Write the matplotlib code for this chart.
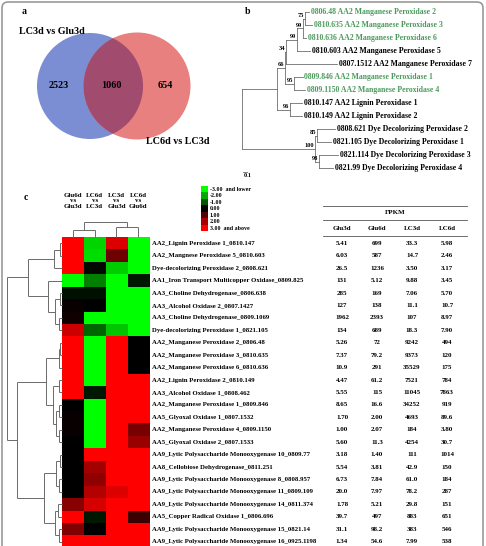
import numpy as np
import matplotlib
matplotlib.use("Agg")
import matplotlib.pyplot as plt
from matplotlib.patches import Circle, FancyBboxPatch
from matplotlib.colors import LinearSegmentedColormap
from matplotlib.collections import LineCollection

plt.rcParams['font.family'] = ['Liberation Serif', 'DejaVu Serif']
plt.rcParams['font.weight'] = 'bold'

# ---- panel a: venn
venn_sets = ['LC3d vs Glu3d', 'LC6d vs LC3d']
venn_counts = [2523, 1060, 654]

# ---- panel b: tree leaves
tree_names = ['0806.48 AA2 Manganese Peroxidase 2', '0810.635 AA2 Manganese Peroxidase 3',
              '0810.636 AA2 Manganese Peroxidase 6', '0810.603 AA2 Manganese Peroxidase 5',
              '0807.1512 AA2 Manganese Peroxidase 7', '0809.846 AA2 Manganese Peroxidase 1',
              '0809.1150 AA2 Manganese Peroxidase 4', '0810.147 AA2 Lignin Peroxidase 1',
              '0810.149 AA2 Lignin Peroxidase 2', '0808.621 Dye Decolorizing Peroxidase 2',
              '0821.105 Dye Decolorizing Peroxidase 1', '0821.114 Dye Decolorizing Peroxidase 3',
              '0821.99 Dye Decolorizing Peroxidase 4']
tree_green = [1, 1, 1, 0, 0, 1, 1, 0, 0, 0, 0, 0, 0]

def N(boot, length, *kids):
    return ('n', boot, length, kids)

def L(idx, length):
    return ('l', idx, length)

# branch lengths in substitutions/site
tree = N(None, 0,
         N(None, 0.875,
           N(66, 0.21,
             N(34, 0.025,
               N(99, 0.275,
                 N(99, 0.15,
                   N(75, 0.05, L(0, 0.09), L(1, 0.175)),
                   L(2, 0.08)),
                 L(3, 0.32)),
               L(4, 1.28)),
             N(95, 0.225, L(5, 0.21), L(6, 0.27))),
           N(96, 0.33, L(7, 0.31), L(8, 0.31))),
         N(100, 1.83,
           N(85, 0.05, L(9, 0.44), L(10, 0.34)),
           N(98, 0.11, L(11, 0.47), L(12, 0.34))))

# ---- panel c: heatmap + FPKM table
col_labels = ['Glu6d\nvs\nGlu3d', 'LC6d\nvs\nLC3d', 'LC3d\nvs\nGlu3d', 'LC6d\nvs\nGlu6d']
genes = ['AA2_Lignin Peroxidase 1_0810.147', 'AA2_Mangnese Peroxidase 5_0810.603',
         'Dye-decolorizing Peroxidase 2_0808.621', 'AA1_Iron Transport Multicopper Oxidase_0809.825',
         'AA3_Choline Dehydrogenase_0806.638', 'AA3_Alcohol Oxidase 2_0807.1427',
         'AA3_Choline Dehydrogenase_0809.1069', 'Dye-decolorizing Peroxidase 1_0821.105',
         'AA2_Manganese Peroxidase 2_0806.48', 'AA2_Manganese Peroxidase 3_0810.635',
         'AA2_Manganese Peroxidase 6_0810.636', 'AA2_Lignin Peroxidase 2_0810.149',
         'AA3_Alcohol Oxidase 1_0808.462', 'AA2_Manganese Peroxidase 1_0809.846',
         'AA5_Glyoxal Oxidase 1_0807.1532', 'AA2_Manganese Peroxidase 4_0809.1150',
         'AA5_Glyoxal Oxidase 2_0807.1533', 'AA9_Lytic Polysaccharide Monooxygenase 10_0809.77',
         'AA8_Cellobiose Dehydrogenase_0811.251', 'AA9_Lytic Polysaccharide Monooxygenase 8_0808.957',
         'AA9_Lytic Polysaccharide Monooxygenase 11_0809.109', 'AA9_Lytic Polysaccharide Monooxygenase 14_0811.374',
         'AA5_Copper Radical Oxidase 1_0806.696', 'AA9_Lytic Polysaccharide Monooxygenase 15_0821.14',
         'AA9_Lytic Polysaccharide Monooxygenase 16_0925.1198']
log2fc = np.array([
    [3.0, -2.5, 2.6, -3.0],
    [3.0, -2.6, 1.3, -3.0],
    [3.0, -0.1, -2.4, -3.0],
    [-3.0, -1.5, -3.0, -0.3],
    [-0.2, -0.2, -3.0, -3.0],
    [0.1, 0.0, -3.0, -3.0],
    [0.2, -3.0, -3.0, -3.0],
    [2.4, -1.2, -2.3, -3.0],
    [3.0, -3.0, 3.0, 0.0],
    [3.0, -3.0, 3.0, 0.0],
    [3.0, -3.0, 3.0, 0.0],
    [3.0, -3.0, 3.0, 3.0],
    [3.0, -0.3, 3.0, 3.0],
    [0.0, -3.0, 3.0, 3.0],
    [0.1, -3.0, 3.0, 3.0],
    [0.1, -3.0, 3.0, 1.4],
    [0.0, -3.0, 3.0, 1.8],
    [0.0, 3.0, 3.0, 3.0],
    [0.0, 1.9, 3.0, 3.0],
    [0.0, 1.7, 3.0, 3.0],
    [0.0, 2.1, 2.6, 3.0],
    [1.6, 2.5, 3.0, 3.0],
    [3.0, -0.3, 3.0, 0.7],
    [1.5, 0.0, 3.0, 3.0],
    [3.0, 3.0, 3.0, 3.0],
])
legend_levels = [-3, -2, -1, 0, 1, 2, 3]
legend_text = ['-3.00  and lower', '-2.00', '-1.00', '0.00', '1.00', '2.00', '3.00  and above']

fpkm_cols = ['Glu3d', 'Glu6d', 'LC3d', 'LC6d']
glu3d = ['5.41', '6.03', '26.5', '131', '285', '127', '1962', '134', '5.26', '7.37', '10.9', '4.47', '5.55',
         '8.65', '1.70', '1.00', '5.60', '3.18', '5.54', '6.73', '20.0', '1.78', '39.7', '31.1', '1.34']
glu6d = ['699', '587', '1236', '5.12', '169', '138', '2393', '689', '72', '79.2', '291', '61.2', '115',
         '16.6', '2.00', '2.07', '11.3', '1.40', '3.81', '7.84', '7.97', '5.21', '497', '98.2', '54.6']
lc3d = ['33.3', '14.7', '3.50', '9.88', '7.06', '11.1', '107', '18.3', '9242', '9373', '35529', '7521', '11045',
        '34252', '4693', '184', '4254', '111', '42.9', '61.0', '78.2', '29.8', '883', '383', '7.99']
lc6d = ['5.98', '2.46', '3.17', '3.45', '5.70', '10.7', '8.97', '7.90', '494', '120', '175', '784', '7863',
        '919', '89.6', '3.80', '30.7', '1014', '150', '184', '287', '151', '651', '546', '538']

# clustering trees (leaf index or (left, right, height))
row_top = (((0, 1, 2.5), 2, 7.7), (3, ((4, 5, 2.5), (6, 7, 3), 7), 13.7), 33.7)
row_bottom = ((((8, 9, 2), 10, 3), ((11, 12, 3), ((13, 14, 3), (15, 16, 3.5), 6), 9), 16.3),
              (((17, 18, 2.5), (19, 20, 3), 6), ((21, 22, 4), (23, 24, 3), 7), 17.7), 45.3)
row_tree = (row_top, row_bottom, 55.3)
col_tree = ((0, 1, 7), (2, 3, 10), 15)

# ---------------------------------------------------------------
fig = plt.figure(figsize=(4.86, 5.46), dpi=100)
ax = fig.add_axes([0, 0, 1, 1])
ax.set_xlim(0, 486)
ax.set_ylim(546, 0)
ax.set_autoscale_on(False)
ax.axis('off')

ax.add_patch(FancyBboxPatch((2, 2), 481, 560, boxstyle='round,pad=0,rounding_size=6',
                            fc='none', ec='#9a9a9a', lw=1.2))

# panel a
ax.text(22, 11, 'a', fontsize=7, va='center')
blue = Circle((90, 86), 53, fc='#7b8ed4', ec='none')
red = Circle((137, 86), 53.5, fc='#e88080', ec='none')
lens = Circle((137, 86), 53.5, fc='#a14c6e', ec='none')
ax.add_patch(blue)
ax.add_patch(red)
ax.add_patch(lens)
lens.set_clip_path(blue)
ax.text(52, 32, venn_sets[0], fontsize=7.3, ha='center', va='center')
ax.text(178, 142, venn_sets[1], fontsize=7.3, ha='center', va='center')
for xx, cnt in zip([59, 111, 165], venn_counts):
    ax.text(xx, 86, str(cnt), fontsize=7.3, ha='center', va='center')

# panel b
ax.text(245, 11, 'b', fontsize=7, va='center')
px_unit = 40.0
leaf_y0, leaf_dy = 12.0, 13.0
tree_col = '#6e6e6e'

def draw_tree(node, x0):
    if node[0] == 'l':
        idx, length = node[1], node[2]
        x = x0 + length * px_unit
        y = leaf_y0 + leaf_dy * idx
        ax.plot([x0, x], [y, y], color=tree_col, lw=0.6)
        ax.text(x + 2, y, tree_names[idx], fontsize=5.6, va='center',
                color='#4b9a5c' if tree_green[idx] else 'black')
        return y
    boot, length, kids = node[1], node[2], node[3]
    x = x0 + length * px_unit
    ys = [draw_tree(k, x) for k in kids]
    y = (min(ys) + max(ys)) / 2
    ax.plot([x, x], [min(ys), max(ys)], color=tree_col, lw=0.6)
    if length > 0:
        ax.plot([x0, x], [y, y], color=tree_col, lw=0.6)
    if boot is not None:
        ax.text(x - 0.8, y - 0.5, str(boot), fontsize=4.6, ha='right', va='bottom')
    return y

draw_tree(tree, 241.7)
ax.plot([243, 243 + 0.1 * px_unit], [171.5, 171.5], color=tree_col, lw=0.6)
ax.text(244, 175.5, '0.1', fontsize=4.6, va='center')

# panel c
ax.text(24, 198, 'c', fontsize=7, va='center')
hx0, hx1 = 62.0, 149.0
hy0, rdy = 237.1, 12.43
ncol = log2fc.shape[1]
cw = (hx1 - hx0) / ncol

def row_pos(i):
    return hy0 + rdy * (i + 0.5)

segs = []

def draw_row_dend(node):
    if not isinstance(node, tuple):
        return row_pos(node), 0.0
    l, r, h = node
    yl, hl = draw_row_dend(l)
    yr, hr = draw_row_dend(r)
    segs.append([(hx0 - hl, yl), (hx0 - h, yl)])
    segs.append([(hx0 - hr, yr), (hx0 - h, yr)])
    segs.append([(hx0 - h, yl), (hx0 - h, yr)])
    return (yl + yr) / 2, h

def draw_col_dend(node):
    if not isinstance(node, tuple):
        return hx0 + cw * (node + 0.5), 0.0
    l, r, h = node
    xl, hl = draw_col_dend(l)
    xr, hr = draw_col_dend(r)
    segs.append([(xl, hy0 - hl), (xl, hy0 - h)])
    segs.append([(xr, hy0 - hr), (xr, hy0 - h)])
    segs.append([(xl, hy0 - h), (xr, hy0 - h)])
    return (xl + xr) / 2, h

draw_row_dend(row_tree)
draw_col_dend(col_tree)
ax.add_collection(LineCollection(segs, colors='#6a6a6a', linewidths=0.7, zorder=5))

cmap = LinearSegmentedColormap.from_list('gkr', ['#00ff00', '#000000', '#ff0000'])
ax.imshow(log2fc, cmap=cmap, vmin=-3, vmax=3, aspect='auto', interpolation='nearest',
          extent=(hx0, hx1, hy0 + rdy * len(genes), hy0), zorder=1)

for j, lab in enumerate(col_labels):
    ax.text(hx0 + cw * (j + 0.5), 201, lab, fontsize=5, ha='center', va='center', linespacing=1.15)

# legend swatch
ax.imshow(np.array(legend_levels)[:, None], cmap=cmap, vmin=-3, vmax=3, aspect='auto',
          interpolation='nearest', extent=(201, 208, 231, 186), zorder=1)
for k, t in enumerate(legend_text):
    ax.text(209.5, 189.3 + 6.45 * k, t, fontsize=4.3, va='center')

for i, g in enumerate(genes):
    ax.text(152, row_pos(i), g, fontsize=4.9, va='center')

# FPKM table
tab_x = [342, 377, 412, 447]
for yy in [206, 219.5, 236]:
    ax.plot([323, 467], [yy, yy], color='#555555', lw=0.6)
ax.text(395, 213, 'FPKM', fontsize=5, ha='center', va='center')
for xx, name, col in zip(tab_x, fpkm_cols, [glu3d, glu6d, lc3d, lc6d]):
    ax.text(xx, 228, name, fontsize=5, ha='center', va='center')
    for i, v in enumerate(col):
        ax.text(xx, row_pos(i), v, fontsize=5, ha='center', va='center')

ax.set_xlim(0, 486)
ax.set_ylim(546, 0)
fig.savefig('out.png', dpi=100)
